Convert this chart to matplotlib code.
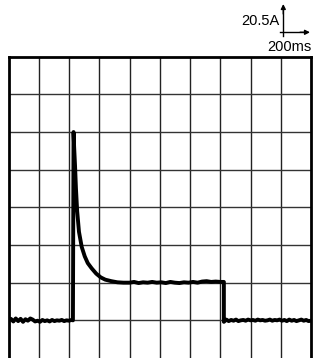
import matplotlib.pyplot as plt

plt.rcParams['font.family'] = ['Liberation Sans', 'DejaVu Sans']

# time in divisions (200 ms / div), current in divisions (20.5 A / div)
t_before = [0.00, 0.08, 0.16, 0.24, 0.32, 0.40, 0.48, 0.56, 0.64, 0.72, 0.80,
            0.88, 0.96, 1.04, 1.12, 1.20, 1.28, 1.36, 1.44, 1.52, 1.60, 1.68,
            1.76, 1.84, 1.92, 2.00, 2.08, 2.13]
i_before = [1.00, 1.04, 0.97, 1.05, 0.98, 1.04, 0.96, 1.03, 0.99, 1.05, 1.02,
            0.97, 0.99, 0.96, 1.01, 0.98, 1.00, 0.97, 1.01, 0.98, 1.00, 0.99,
            1.01, 0.98, 1.00, 0.99, 1.01, 1.00]

t_pulse = [2.13, 2.15, 2.17, 2.20, 2.23, 2.27, 2.33, 2.42, 2.52, 2.62, 2.75,
           2.90, 3.05, 3.20, 3.40, 3.60, 3.80, 4.00, 4.15, 4.30, 4.45, 4.60,
           4.75, 4.90, 5.05, 5.20, 5.35, 5.50, 5.65, 5.80, 5.95, 6.10, 6.25,
           6.40, 6.55, 6.70, 6.85, 7.00, 7.10]
i_pulse = [1.00, 6.00, 5.60, 5.10, 4.50, 3.90, 3.35, 2.95, 2.70, 2.52, 2.38,
           2.24, 2.14, 2.08, 2.04, 2.01, 2.00, 2.00, 2.02, 1.99, 2.01, 2.00,
           2.02, 2.00, 2.01, 1.99, 2.02, 2.00, 1.99, 2.01, 2.00, 2.02, 2.00,
           2.03, 2.04, 2.02, 2.03, 2.02, 2.02]

t_after = [7.12, 7.12, 7.20, 7.28, 7.36, 7.44, 7.52, 7.60, 7.68, 7.76, 7.84,
           7.92, 8.00, 8.08, 8.16, 8.24, 8.32, 8.40, 8.48, 8.56, 8.64, 8.72,
           8.80, 8.88, 8.96, 9.04, 9.12, 9.20, 9.28, 9.36, 9.44, 9.52, 9.60,
           9.68, 9.76, 9.84, 9.92, 10.0]
i_after = [2.02, 0.96, 1.02, 0.98, 1.01, 0.99, 1.02, 0.98, 1.00, 1.01, 0.99,
           1.02, 1.00, 1.01, 0.99, 1.02, 1.00, 1.01, 0.99, 1.00, 1.02, 0.99,
           1.01, 1.00, 1.02, 0.99, 1.01, 0.98, 1.02, 0.99, 1.01, 0.98, 1.00,
           1.02, 0.99, 1.01, 0.98, 0.99]

fig = plt.figure(figsize=(3.18, 3.58), dpi=100)
ax = fig.add_axes([8.5 / 318, 0.0, 302.5 / 318, 301.3 / 358])

for x in range(1, 10):
    ax.axvline(x, color='#222222', lw=1.0, zorder=1)
for y in range(1, 8):
    ax.axhline(y, color='#333333', lw=1.0, zorder=1)

ax.plot(t_before + t_pulse + t_after, i_before + i_pulse + i_after,
        color='black', lw=2.8, solid_joinstyle='round', zorder=3)

ax.set_xlim(0, 10)
ax.set_ylim(0, 8)
ax.set_xticks([])
ax.set_yticks([])
for side in ['left', 'right', 'top']:
    ax.spines[side].set_linewidth(2.0)
ax.spines['bottom'].set_visible(False)

# scale indicator
W, H = 318, 358
fig.text(280 / W, 1 - 21 / H, '20.5A', ha='right', va='center', fontsize=10.5)
fig.text(311 / W, 1 - 47 / H, '200ms', ha='right', va='center', fontsize=10.5)
fig.add_artist(plt.Line2D([283.3 / W, 283.3 / W], [1 - 36 / H, 1 - 8 / H],
                          color='black', lw=1.0))
fig.add_artist(plt.Line2D([280 / W, 306 / W], [1 - 32.3 / H, 1 - 32.3 / H],
                          color='black', lw=1.0))
ax.annotate('', xy=(283.3 / W, 1 - 4 / H), xytext=(283.3 / W, 1 - 14 / H),
            xycoords='figure fraction',
            arrowprops=dict(arrowstyle='-|>', color='black', lw=1.0,
                            mutation_scale=7, shrinkA=0, shrinkB=0))
ax.annotate('', xy=(310 / W, 1 - 32.3 / H), xytext=(300 / W, 1 - 32.3 / H),
            xycoords='figure fraction',
            arrowprops=dict(arrowstyle='-|>', color='black', lw=1.0,
                            mutation_scale=7, shrinkA=0, shrinkB=0))

fig.savefig('out.png', dpi=100)
